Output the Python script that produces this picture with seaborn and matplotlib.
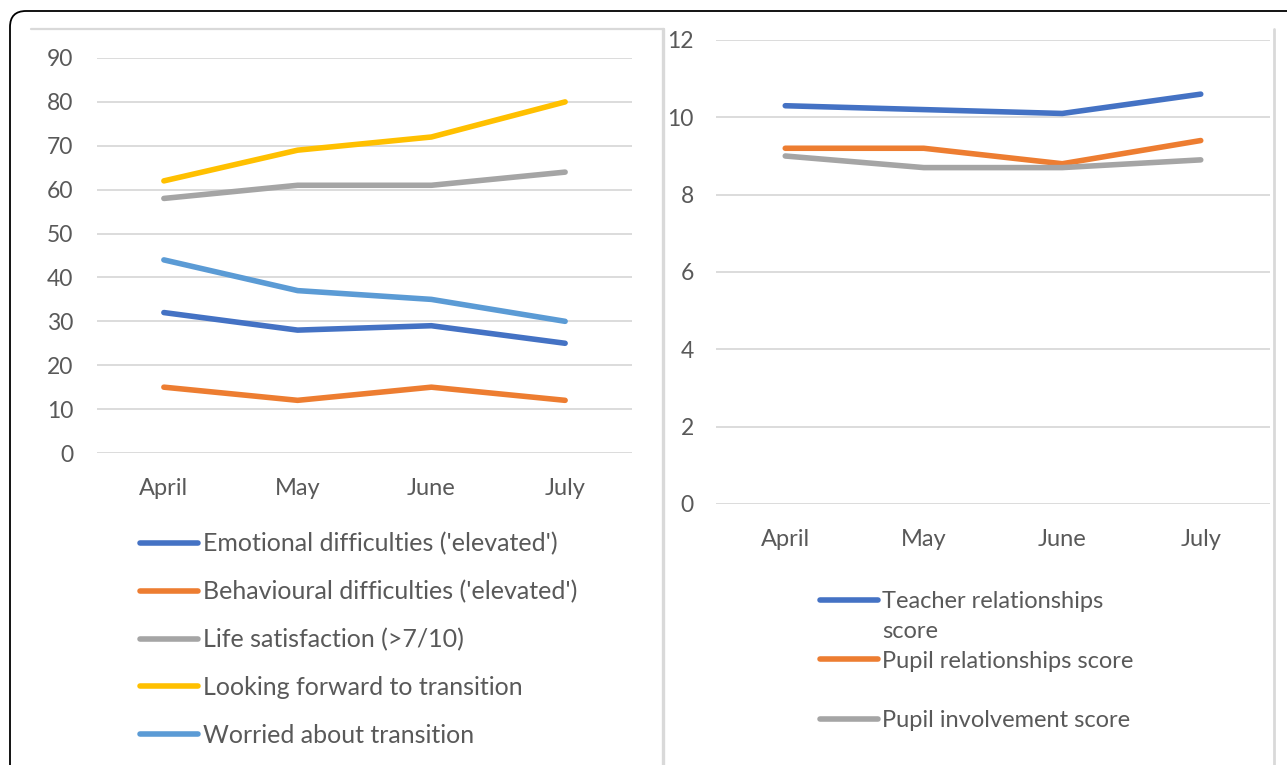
import numpy as np
import pandas as pd
import seaborn as sns
import matplotlib
matplotlib.use("Agg")
import matplotlib.pyplot as plt
from matplotlib.patches import FancyBboxPatch
from matplotlib.lines import Line2D

# ---------------- data ----------------
months = ["April", "May", "June", "July"]

left_series = ["Emotional difficulties ('elevated')",
               "Behavioural difficulties ('elevated')",
               "Life satisfaction (>7/10)",
               "Looking forward to transition",
               "Worried about transition"]
emotional = [32, 28, 29, 25]
behavioural = [15, 12, 15, 12]
life_satisfaction = [58, 61, 61, 64]
looking_forward = [62, 69, 72, 80]
worried = [44, 37, 35, 30]

right_series = ["Teacher relationships score",
                "Pupil relationships score",
                "Pupil involvement score"]
teacher_rel = [10.3, 10.2, 10.1, 10.6]
pupil_rel = [9.2, 9.2, 8.8, 9.4]
pupil_inv = [9.0, 8.7, 8.7, 8.9]

left_colors = ["#4472C4", "#ED7D31", "#A5A5A5", "#FFC000", "#5B9BD5"]
right_colors = ["#4472C4", "#ED7D31", "#A5A5A5"]

# ---------------- style ----------------
sns.set_theme(style="white")
plt.rcParams['font.family'] = ['Lato', 'DejaVu Sans']
TXT = "#595959"
GRID = "#d9d9d9"

W, H = 1287, 765
fig = plt.figure(figsize=(W / 100, H / 100), dpi=100)
fig.patch.set_facecolor("white")


def fx(px):
    return px / W


def fy(py):
    return 1 - py / H


def style_axes(ax, ylim, yticks, ypad, xpad):
    ax.set_xlim(-0.5, 3.5)
    ax.set_ylim(*ylim)
    ax.set_yticks(yticks)
    ax.set_xlabel("")
    ax.set_ylabel("")
    for s in ax.spines.values():
        s.set_visible(False)
    ax.yaxis.grid(True, color=GRID, linewidth=1.3)
    ax.xaxis.grid(False)
    ax.set_axisbelow(True)
    ax.tick_params(axis="y", length=0, pad=ypad, labelsize=16.5, labelcolor=TXT)
    ax.tick_params(axis="x", length=0, pad=xpad, labelsize=17, labelcolor=TXT)
    ax.patch.set_alpha(0)
    for ln in ax.get_lines():
        ln.set_solid_capstyle("round")
        ln.set_clip_on(False)


# ---------------- left panel ----------------
dfL = pd.DataFrame({
    "month": months * 5,
    "value": emotional + behavioural + life_satisfaction + looking_forward + worried,
    "series": np.repeat(left_series, 4),
})
axL = fig.add_axes([fx(97), fy(453), 535 / W, 395 / H])
sns.lineplot(data=dfL, x="month", y="value", hue="series", hue_order=left_series,
             palette=dict(zip(left_series, left_colors)), linewidth=4.0,
             sort=False, ax=axL)
style_axes(axL, (0, 90), range(0, 91, 10), 17, 18)
hL, lL = axL.get_legend_handles_labels()
for h in hL:
    h.set_solid_capstyle("round")
    h.set_linewidth(4.0)
axL.legend(hL, lL, loc="upper left", bbox_to_anchor=(fx(140), fy(532)),
           bbox_transform=fig.transFigure, frameon=False, fontsize=18,
           handlelength=2.32, handletextpad=0.2, labelspacing=0.99,
           borderpad=0, borderaxespad=0, labelcolor=TXT)

# ---------------- right panel ----------------
dfR = pd.DataFrame({
    "month": months * 3,
    "value": teacher_rel + pupil_rel + pupil_inv,
    "series": np.repeat(right_series, 4),
})
axR = fig.add_axes([fx(716), fy(504), 554 / W, 464 / H])
sns.lineplot(data=dfR, x="month", y="value", hue="series", hue_order=right_series,
             palette=dict(zip(right_series, right_colors)), linewidth=4.0,
             sort=False, ax=axR)
style_axes(axR, (0, 12), range(0, 13, 2), 16, 18)
hR, lR = axR.get_legend_handles_labels()
for h in hR:
    h.set_solid_capstyle("round")
    h.set_linewidth(4.0)
axR.legend(hR, ["Teacher relationships", lR[1], lR[2]], loc="upper left",
           bbox_to_anchor=(fx(820), fy(591)), bbox_transform=fig.transFigure,
           frameon=False, fontsize=17, handlelength=2.46, handletextpad=0.17,
           labelspacing=1.64, borderpad=0, borderaxespad=0, labelcolor=TXT)
fig.text(fx(882), fy(631), "score", fontsize=17, color=TXT, va="center", ha="left")

# ---------------- frames ----------------
border = FancyBboxPatch((0.10, -1.0), 14.0, 8.54,
                        boxstyle="round,pad=0,rounding_size=0.16",
                        transform=fig.dpi_scale_trans, fill=False,
                        edgecolor="black", linewidth=1.3)
fig.add_artist(border)
fig.add_artist(Line2D([fx(31), fx(664)], [fy(29), fy(29)], transform=fig.transFigure,
                      color=GRID, linewidth=1.6))
fig.add_artist(Line2D([fx(663), fx(663)], [fy(29), fy(780)], transform=fig.transFigure,
                      color=GRID, linewidth=2.4))
fig.add_artist(Line2D([fx(1274), fx(1274)], [fy(29), fy(780)], transform=fig.transFigure,
                      color=GRID, linewidth=2.0))

fig.savefig("out.png", dpi=100)
